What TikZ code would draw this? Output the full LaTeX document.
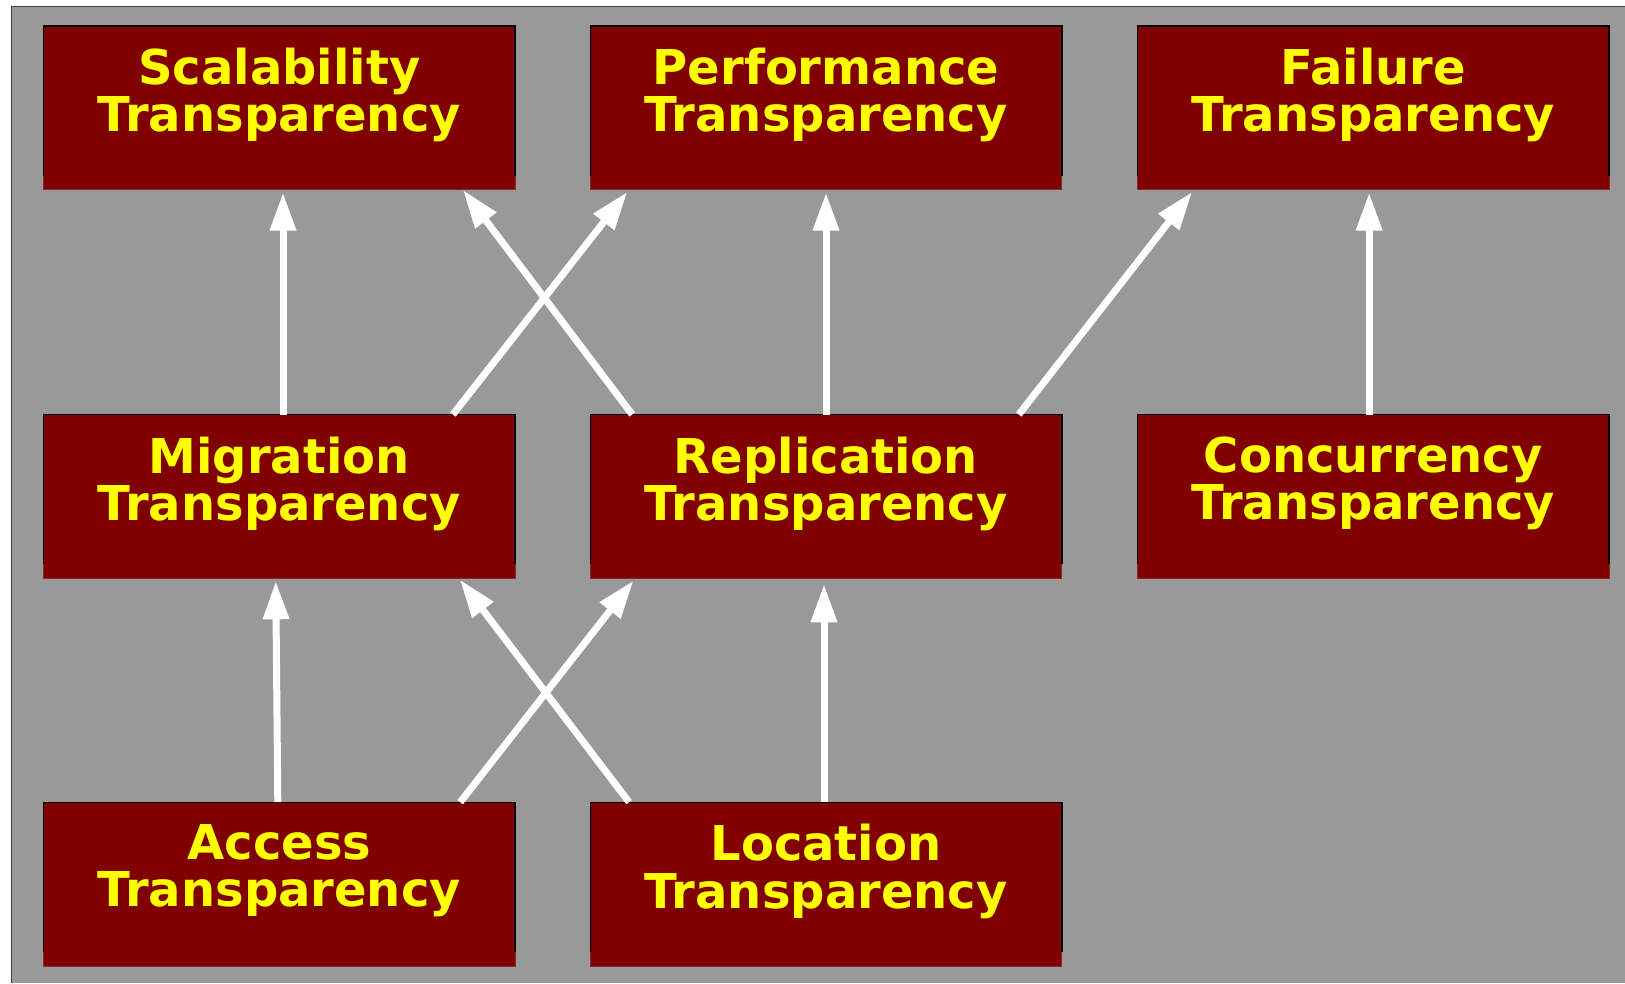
\documentclass[tikz,border=0pt]{standalone}
\usepackage{fontspec}
\setmainfont{DejaVu Sans}
\usetikzlibrary{arrows.meta}
\definecolor{panelgray}{HTML}{999999}
\definecolor{panelline}{HTML}{404040}
\definecolor{boxred}{HTML}{800000}
\definecolor{boxedge}{HTML}{8C2A2A}
\definecolor{labelyellow}{HTML}{FFFF00}
\lineskiplimit=-60pt
\begin{document}
\begin{tikzpicture}[x=1pt,y=-1pt,
  tbox/.style={rectangle, fill=boxred, draw=boxedge, line width=0.8pt,
    minimum width=471.6pt, minimum height=163.8pt, inner sep=0pt, outer sep=0pt},
  boxline/.style={draw=black, line width=1.4pt},
  lbl/.style={anchor=north, inner sep=0pt, align=center, text=labelyellow,
    font=\fontsize{48}{47.4}\selectfont\bfseries},
  arr/.style={draw=white, line width=7pt, shorten >=3pt,
    -{Triangle[width=25pt,length=38pt]}}]
  \useasboundingbox (0,0) rectangle (1625,983);
  % page and grey panel
  \fill[white] (0,0) rectangle (1625,983);
  \fill[panelgray] (11.4,6.2) rectangle (1625,983);
  \draw[panelline, line width=1.2pt] (11.4,983) -- (11.4,6.2) -- (1625,6.2);

  % boxes
  \node[tbox] (scal) at (279.3,107.8) {};
  \node[tbox] (perf) at (826,107.8) {};
  \node[tbox] (fail) at (1373.3,107.8) {};
  \node[tbox] (mig)  at (279.3,496.4) {};
  \node[tbox] (rep)  at (826,496.4) {};
  \node[tbox] (conc) at (1373.3,496.4) {};
  \node[tbox] (acc)  at (279.3,884.1) {};
  \node[tbox] (loc)  at (826,884.1) {};
  \foreach \n in {scal,perf,fail,mig,rep,conc,acc,loc}
    \draw[boxline] ([yshift=14pt]\n.south west) -- (\n.north west)
      -- (\n.north east) -- ([yshift=14pt]\n.south east);

  % labels
  \node[lbl] (scalt) at ([yshift=-22pt]scal.north) {Scalability\\Transparency};
  \node[lbl] (perft) at ([yshift=-22pt]perf.north) {Performance\\Transparency};
  \node[lbl] (failt) at ([yshift=-22pt]fail.north) {Failure\\Transparency};
  \node[lbl] (migt)  at ([yshift=-22pt]mig.north) {Migration\\Transparency};
  \node[lbl] (rept)  at ([yshift=-22pt]rep.north) {Replication\\Transparency};
  \node[lbl] (conct) at ([yshift=-22pt]conc.north) {Concurrency\\Transparency};
  \node[lbl] (acct)  at ([yshift=-22pt]acc.north) {Access\\Transparency};
  \node[lbl] (loct)  at ([yshift=-22pt]loc.north) {Location\\Transparency};

  % dependencies
  \draw[arr] ([xshift=3.7pt]mig.north) -- ([xshift=3.7pt]scal.south);
  \draw[arr] ([xshift=173.6pt]mig.north) -- ([xshift=-196.9pt]perf.south);
  \draw[arr] ([xshift=-193.8pt]rep.north) -- ([xshift=181.9pt,yshift=2pt]scal.south);
  \draw[arr] (rep.north) -- (perf.south);
  \draw[arr] ([xshift=192.8pt]rep.north) -- ([xshift=-179.4pt]fail.south);
  \draw[arr] ([xshift=-4.2pt]conc.north) -- ([xshift=-4.2pt]fail.south);
  \draw[arr] ([xshift=-1.5pt]acc.north) -- ([xshift=-3.6pt]mig.south);
  \draw[arr] ([xshift=180.9pt]acc.north) -- ([xshift=-190.7pt]rep.south);
  \draw[arr] ([xshift=-196.9pt]loc.north) -- ([xshift=178.8pt,yshift=1pt]mig.south);
  \draw[arr] ([xshift=-2pt]loc.north) -- ([xshift=-2pt,yshift=-3pt]rep.south);
\end{tikzpicture}
\end{document}
